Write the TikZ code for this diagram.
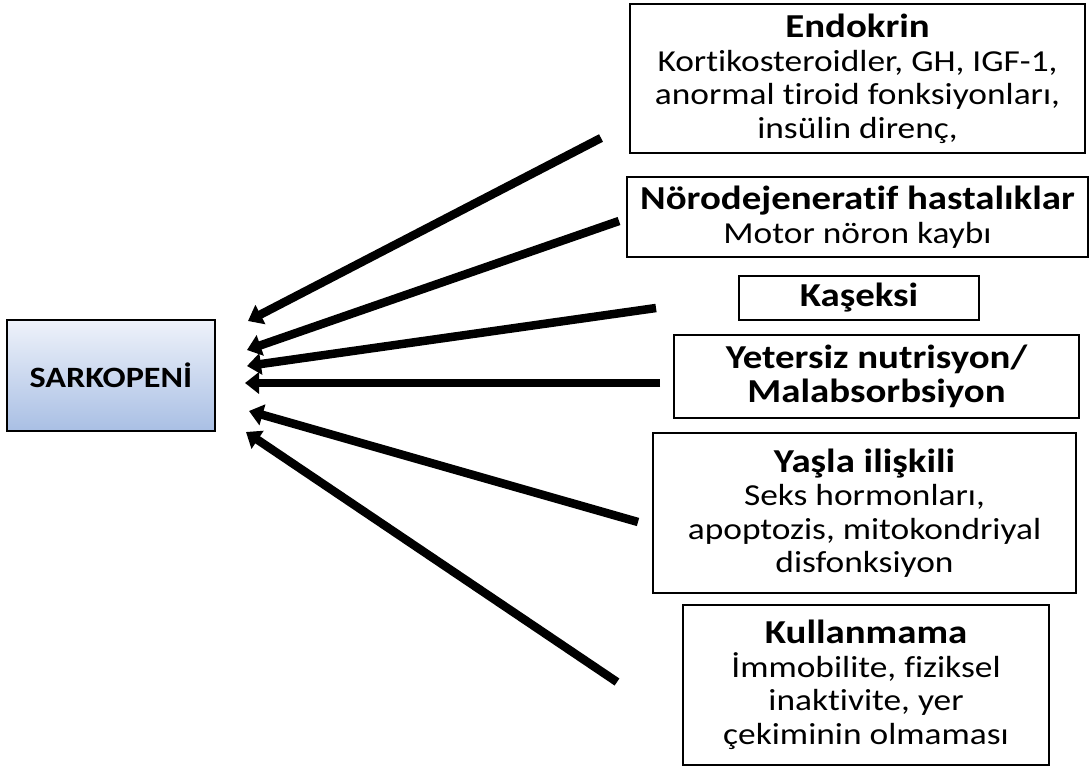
\documentclass[tikz,border=0pt]{standalone}
\usepackage{fontspec}
\setmainfont{Carlito}[FakeStretch=1.16, Ligatures={NoCommon,NoRare,NoContextual}]
\usetikzlibrary{arrows.meta}
\definecolor{boxtop}{HTML}{EEF2FA}
\definecolor{boxbot}{HTML}{A9BFE4}
\newcommand{\ttl}[1]{{\fontsize{33.5}{33.5}\selectfont\bfseries #1}}
\tikzset{
  box/.style={draw=black, line width=2pt, fill=white, align=center, inner sep=0pt,
    font=\fontsize{30.5}{33.5}\selectfont},
  mainbox/.style={draw=black, line width=2pt, top color=boxtop, bottom color=boxbot,
    middle color=boxtop!50!boxbot, align=center, inner sep=0pt,
    font=\fontsize{29.5}{30}\selectfont\bfseries},
  arr/.style={line width=8.5pt, -{Triangle[length=14pt,width=21pt]}}
}
\begin{document}
\begin{tikzpicture}[x=1pt,y=-1pt]
\useasboundingbox (0,0) rectangle (1091,767);
\fill[white] (0,0) rectangle (1091,767);
\node[mainbox, minimum width=208pt, minimum height=111pt] (sark) at (111,375.5) {SARKOPENİ};
\node[box, minimum width=455pt, minimum height=149pt] (endo) at (857.5,79)
  {\ttl{Endokrin}\\Kortikosteroidler, GH, IGF-1,\\anormal tiroid fonksiyonları,\\insülin direnç,};
\node[box, minimum width=461pt, minimum height=80pt] (noro) at (857.5,217)
  {\ttl{Nörodejeneratif hastalıklar}\\Motor nöron kaybı};
\node[box, minimum width=240pt, minimum height=44pt] (kas) at (859,298)
  {\ttl{Kaşeksi}};
\node[box, minimum width=405pt, minimum height=83pt] (yet) at (876.5,376.5)
  {\ttl{Yetersiz nutrisyon/}\\\ttl{Malabsorbsiyon}};
\node[box, minimum width=423pt, minimum height=160pt] (yas) at (864.5,513)
  {\ttl{Yaşla ilişkili}\\Seks hormonları,\\apoptozis, mitokondriyal\\disfonksiyon};
\node[box, minimum width=366pt, minimum height=160pt] (kul) at (866,685)
  {\ttl{Kullanmama}\\İmmobilite, fiziksel\\inaktivite, yer\\çekiminin olmaması};
\coordinate (t1) at (601,138);  \coordinate (h1) at (248,321);
\coordinate (t2) at (619,221);  \coordinate (h2) at (247,350);
\coordinate (t3) at (656,308);  \coordinate (h3) at (247,366);
\coordinate (t4) at (660,383);  \coordinate (h4) at (245,383);
\coordinate (t5) at (638,522);  \coordinate (h5) at (249,411);
\coordinate (t6) at (617,682);  \coordinate (h6) at (246,432);
\foreach \i in {1,...,6} \draw[arr] (t\i) -- (h\i);
\end{tikzpicture}
\end{document}
